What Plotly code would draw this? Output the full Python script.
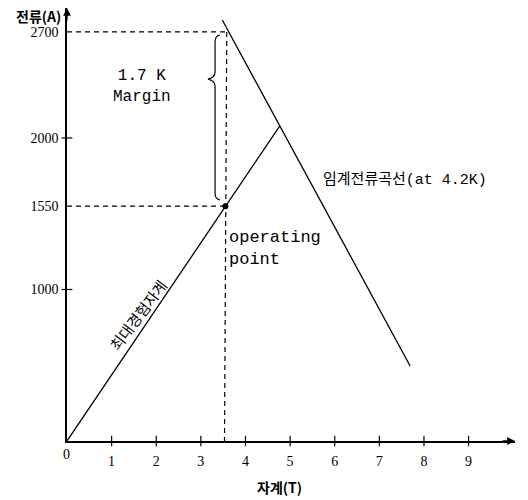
import plotly.graph_objects as go

# Magnetic field (T) vs. current (A) for a superconducting magnet
critical_b = [3.48, 7.69]          # critical current line at 4.2 K
critical_i = [2779, 495]
load_b = [0.0, 4.77]               # load line up to the critical line
load_i = [0, 2080]
op_b = 3.55                        # operating point
op_i = 1550
margin_i = 2700                    # current at the critical line for op_b

x_ticks = [1, 2, 3, 4, 5, 6, 7, 8, 9]
y_ticks = [1000, 1550, 2000, 2700]
y_cross_ticks = [1000, 2000]

X_MAX = 10.04
Y_MAX = 2858

mono = "Liberation Mono, Courier New, monospace"
kr = "Noto Sans CJK KR"
serif = "Liberation Serif, serif"

fig = go.Figure()

# dashed guide lines
fig.add_trace(go.Scatter(x=[0, op_b + 0.08], y=[margin_i, margin_i], mode="lines",
                         line=dict(color="black", width=1.2, dash="5px,4px"), hoverinfo="skip"))
fig.add_trace(go.Scatter(x=[op_b + 0.03, op_b - 0.02], y=[margin_i, 0], mode="lines",
                         line=dict(color="black", width=1.2, dash="5px,4px"), hoverinfo="skip"))
fig.add_trace(go.Scatter(x=[0, op_b], y=[op_i, op_i], mode="lines",
                         line=dict(color="black", width=1.2, dash="5px,4px"), hoverinfo="skip"))

# critical current line and load line
fig.add_trace(go.Scatter(x=critical_b, y=critical_i, mode="lines",
                         line=dict(color="black", width=1.3), hoverinfo="skip"))
fig.add_trace(go.Scatter(x=load_b, y=load_i, mode="lines",
                         line=dict(color="black", width=1.3), hoverinfo="skip"))
fig.add_trace(go.Scatter(x=[op_b], y=[op_i], mode="markers",
                         marker=dict(color="black", size=6), hoverinfo="skip"))

shapes = []
# tick crosses through the axes
for t in x_ticks:
    shapes.append(dict(type="line", xref="x", yref="paper", x0=t, x1=t, y0=-0.012, y1=0.012,
                       line=dict(color="black", width=1.2)))
for t in y_cross_ticks:
    shapes.append(dict(type="line", xref="paper", yref="y", x0=-0.012, x1=0.012, y0=t, y1=t,
                       line=dict(color="black", width=1.2)))
# curly brace marking the margin
shapes.append(dict(type="path", xref="x", yref="y",
                   path="M 3.43,2680 Q 3.318,2675 3.318,2634 L 3.318,2436 "
                        "Q 3.318,2400 3.16,2389 Q 3.318,2378 3.318,2343 "
                        "L 3.318,1637 Q 3.318,1596 3.43,1591",
                   line=dict(color="black", width=1.2)))

annotations = [
    # axis arrowheads
    dict(x=X_MAX, y=0, xref="x", yref="y", ax=-14, ay=0, text="", showarrow=True,
         arrowhead=2, arrowsize=1.2, arrowwidth=1.3, arrowcolor="black"),
    dict(x=0, y=Y_MAX, xref="x", yref="y", ax=0, ay=14, text="", showarrow=True,
         arrowhead=2, arrowsize=1.2, arrowwidth=1.3, arrowcolor="black"),
    # axis titles
    dict(x=0, y=Y_MAX, xref="x", yref="y", xanchor="right", yanchor="middle", xshift=-4, yshift=-8,
         text="<b>전류(A)</b>", showarrow=False, font=dict(family=kr, size=14, color="black")),
    dict(x=0.475, y=0, xref="paper", yref="paper", yshift=-46, yanchor="middle",
         text="<b>자계(T)</b>", showarrow=False, font=dict(family=kr, size=14, color="black")),
    # origin label
    dict(x=0, y=0, xref="x", yref="y", xanchor="center", yanchor="top", yshift=-4, xshift=-1,
         text="0", showarrow=False, font=dict(family=serif, size=14, color="black")),
    # annotations in the plot
    dict(x=1.69, y=2343, xref="x", yref="y", text="1.7 K<br>Margin", showarrow=False,
         font=dict(family=mono, size=16, color="black"), align="center"),
    dict(x=op_b + 0.04, y=op_i - 130, xref="x", yref="y", xanchor="left", yanchor="top",
         text="operating<br>point", showarrow=False, align="left",
         font=dict(family=mono, size=17, color="black")),
    dict(x=5.7, y=1725, xref="x", yref="y", xanchor="left", yanchor="middle",
         text="임계전류곡선(at 4.2K)", showarrow=False,
         font=dict(family=mono + ", " + kr, size=15, color="black")),
    dict(x=1.59, y=838, xref="x", yref="y", text="최대경험자계", textangle=-53, showarrow=False,
         font=dict(family=kr, size=15, color="black")),
]

fig.update_layout(
    width=528, height=500,
    margin=dict(l=67, r=13, t=8, b=59),
    paper_bgcolor="white", plot_bgcolor="white",
    showlegend=False,
    shapes=shapes, annotations=annotations,
    xaxis=dict(range=[0, X_MAX], showgrid=False, zeroline=False, showline=True,
               linecolor="black", linewidth=1.5, tickvals=x_ticks, ticks="",
               ticklabelstandoff=6,
               tickfont=dict(family=serif, size=14, color="black")),
    yaxis=dict(range=[0, Y_MAX], showgrid=False, zeroline=False, showline=True,
               linecolor="black", linewidth=1.5, tickvals=y_ticks, ticks="",
               ticklabelstandoff=4,
               tickfont=dict(family=serif, size=14, color="black")),
)

fig.write_html("out.html")
